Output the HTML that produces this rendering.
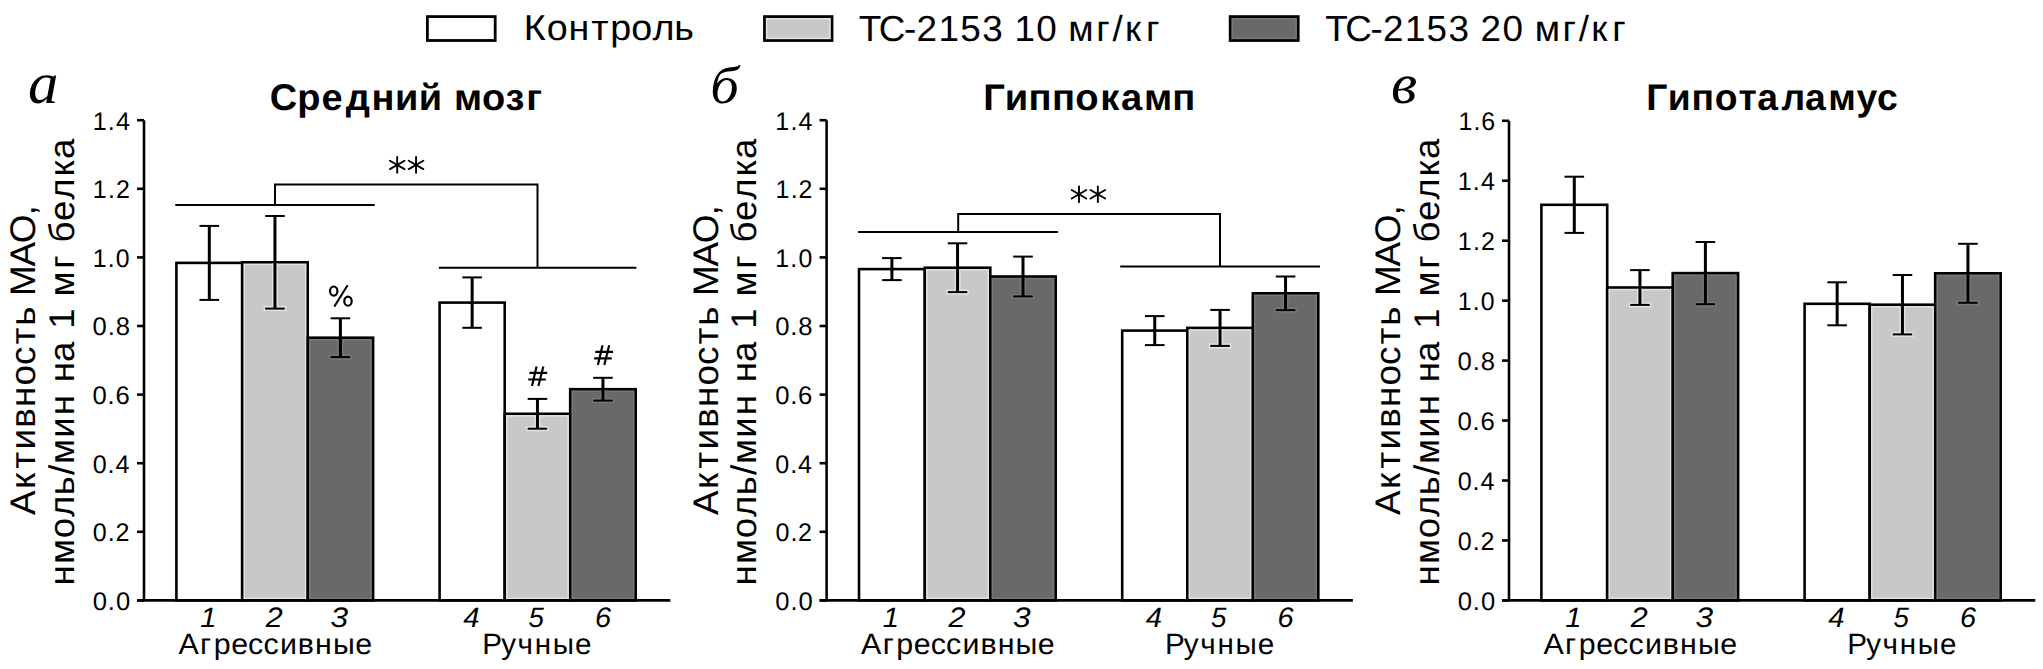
<!DOCTYPE html>
<html><head><meta charset="utf-8"><title>MAO activity</title>
<style>html,body{margin:0;padding:0;background:#fff;} svg{display:block;} text{fill:#000;text-rendering:geometricPrecision;}</style>
</head><body>
<svg width="2043" height="669" viewBox="0 0 2043 669">
<rect x="0" y="0" width="2043" height="669" fill="#fff"/>
<rect x="176.40" y="262.90" width="65.80" height="337.50" fill="#ffffff" stroke="#000" stroke-width="2.6"/>
<rect x="242.20" y="262.30" width="65.50" height="338.10" fill="#c8c8c8" stroke="#000" stroke-width="2.6"/>
<rect x="307.70" y="337.70" width="65.40" height="262.70" fill="#696969" stroke="#000" stroke-width="2.6"/>
<rect x="439.60" y="302.60" width="65.10" height="297.80" fill="#ffffff" stroke="#000" stroke-width="2.6"/>
<rect x="504.70" y="413.80" width="65.50" height="186.60" fill="#c8c8c8" stroke="#000" stroke-width="2.6"/>
<rect x="570.20" y="389.20" width="65.50" height="211.20" fill="#696969" stroke="#000" stroke-width="2.6"/>
<clipPath id="c01"><rect x="243.50" y="263.60" width="62.90" height="335.50"/></clipPath>
<g clip-path="url(#c01)" stroke="#e2e2e2" fill="none"><rect x="244.25" y="264.35" width="61.40" height="334.00" stroke-width="1.5"/><line x1="274.95" y1="215.00" x2="274.95" y2="311.10" stroke-width="6.0"/><line x1="263.65" y1="308.60" x2="286.25" y2="308.60" stroke-width="5.0"/><line x1="263.65" y1="216.00" x2="286.25" y2="216.00" stroke-width="5.0"/></g>
<clipPath id="c02"><rect x="309.00" y="339.00" width="62.80" height="260.10"/></clipPath>
<g clip-path="url(#c02)" stroke="#787878" fill="none"><rect x="309.75" y="339.75" width="61.30" height="258.60" stroke-width="1.5"/><line x1="340.40" y1="317.30" x2="340.40" y2="359.60" stroke-width="6.0"/><line x1="329.10" y1="357.10" x2="351.70" y2="357.10" stroke-width="5.0"/><line x1="329.10" y1="318.30" x2="351.70" y2="318.30" stroke-width="5.0"/></g>
<clipPath id="c04"><rect x="506.00" y="415.10" width="62.90" height="184.00"/></clipPath>
<g clip-path="url(#c04)" stroke="#e2e2e2" fill="none"><rect x="506.75" y="415.85" width="61.40" height="182.50" stroke-width="1.5"/><line x1="537.45" y1="397.90" x2="537.45" y2="431.20" stroke-width="6.0"/><line x1="526.15" y1="428.70" x2="548.75" y2="428.70" stroke-width="5.0"/><line x1="526.15" y1="398.90" x2="548.75" y2="398.90" stroke-width="5.0"/></g>
<clipPath id="c05"><rect x="571.50" y="390.50" width="62.90" height="208.60"/></clipPath>
<g clip-path="url(#c05)" stroke="#787878" fill="none"><rect x="572.25" y="391.25" width="61.40" height="207.10" stroke-width="1.5"/><line x1="602.95" y1="376.80" x2="602.95" y2="403.10" stroke-width="6.0"/><line x1="591.65" y1="400.60" x2="614.25" y2="400.60" stroke-width="5.0"/><line x1="591.65" y1="377.80" x2="614.25" y2="377.80" stroke-width="5.0"/></g>
<line x1="209.30" y1="225.90" x2="209.30" y2="299.90" stroke="#000" stroke-width="3.0" stroke-linecap="butt"/>
<line x1="199.50" y1="225.90" x2="219.10" y2="225.90" stroke="#000" stroke-width="2.0" stroke-linecap="butt"/>
<line x1="199.50" y1="299.90" x2="219.10" y2="299.90" stroke="#000" stroke-width="2.0" stroke-linecap="butt"/>
<line x1="274.95" y1="216.00" x2="274.95" y2="308.60" stroke="#000" stroke-width="3.0" stroke-linecap="butt"/>
<line x1="265.15" y1="216.00" x2="284.75" y2="216.00" stroke="#000" stroke-width="2.0" stroke-linecap="butt"/>
<line x1="265.15" y1="308.60" x2="284.75" y2="308.60" stroke="#000" stroke-width="2.0" stroke-linecap="butt"/>
<line x1="340.40" y1="318.30" x2="340.40" y2="357.10" stroke="#000" stroke-width="3.0" stroke-linecap="butt"/>
<line x1="330.60" y1="318.30" x2="350.20" y2="318.30" stroke="#000" stroke-width="2.0" stroke-linecap="butt"/>
<line x1="330.60" y1="357.10" x2="350.20" y2="357.10" stroke="#000" stroke-width="2.0" stroke-linecap="butt"/>
<line x1="472.15" y1="277.40" x2="472.15" y2="327.80" stroke="#000" stroke-width="3.0" stroke-linecap="butt"/>
<line x1="462.35" y1="277.40" x2="481.95" y2="277.40" stroke="#000" stroke-width="2.0" stroke-linecap="butt"/>
<line x1="462.35" y1="327.80" x2="481.95" y2="327.80" stroke="#000" stroke-width="2.0" stroke-linecap="butt"/>
<line x1="537.45" y1="398.90" x2="537.45" y2="428.70" stroke="#000" stroke-width="3.0" stroke-linecap="butt"/>
<line x1="527.65" y1="398.90" x2="547.25" y2="398.90" stroke="#000" stroke-width="2.0" stroke-linecap="butt"/>
<line x1="527.65" y1="428.70" x2="547.25" y2="428.70" stroke="#000" stroke-width="2.0" stroke-linecap="butt"/>
<line x1="602.95" y1="377.80" x2="602.95" y2="400.60" stroke="#000" stroke-width="3.0" stroke-linecap="butt"/>
<line x1="593.15" y1="377.80" x2="612.75" y2="377.80" stroke="#000" stroke-width="2.0" stroke-linecap="butt"/>
<line x1="593.15" y1="400.60" x2="612.75" y2="400.60" stroke="#000" stroke-width="2.0" stroke-linecap="butt"/>
<line x1="144.00" y1="600.40" x2="144.00" y2="120.20" stroke="#000" stroke-width="2.6" stroke-linecap="butt"/>
<line x1="137.00" y1="600.40" x2="670.30" y2="600.40" stroke="#000" stroke-width="2.6" stroke-linecap="butt"/>
<line x1="137.00" y1="600.40" x2="144.00" y2="600.40" stroke="#000" stroke-width="2.6" stroke-linecap="butt"/>
<line x1="137.00" y1="531.80" x2="144.00" y2="531.80" stroke="#000" stroke-width="2.6" stroke-linecap="butt"/>
<line x1="137.00" y1="463.20" x2="144.00" y2="463.20" stroke="#000" stroke-width="2.6" stroke-linecap="butt"/>
<line x1="137.00" y1="394.60" x2="144.00" y2="394.60" stroke="#000" stroke-width="2.6" stroke-linecap="butt"/>
<line x1="137.00" y1="326.00" x2="144.00" y2="326.00" stroke="#000" stroke-width="2.6" stroke-linecap="butt"/>
<line x1="137.00" y1="257.40" x2="144.00" y2="257.40" stroke="#000" stroke-width="2.6" stroke-linecap="butt"/>
<line x1="137.00" y1="188.80" x2="144.00" y2="188.80" stroke="#000" stroke-width="2.6" stroke-linecap="butt"/>
<line x1="137.00" y1="120.20" x2="144.00" y2="120.20" stroke="#000" stroke-width="2.6" stroke-linecap="butt"/>
<rect x="859.00" y="269.10" width="65.80" height="331.30" fill="#ffffff" stroke="#000" stroke-width="2.6"/>
<rect x="924.80" y="267.70" width="65.50" height="332.70" fill="#c8c8c8" stroke="#000" stroke-width="2.6"/>
<rect x="990.30" y="276.50" width="65.40" height="323.90" fill="#696969" stroke="#000" stroke-width="2.6"/>
<rect x="1122.20" y="330.60" width="65.10" height="269.80" fill="#ffffff" stroke="#000" stroke-width="2.6"/>
<rect x="1187.30" y="327.90" width="65.50" height="272.50" fill="#c8c8c8" stroke="#000" stroke-width="2.6"/>
<rect x="1252.80" y="293.30" width="65.50" height="307.10" fill="#696969" stroke="#000" stroke-width="2.6"/>
<clipPath id="c11"><rect x="926.10" y="269.00" width="62.90" height="330.10"/></clipPath>
<g clip-path="url(#c11)" stroke="#e2e2e2" fill="none"><rect x="926.85" y="269.75" width="61.40" height="328.60" stroke-width="1.5"/><line x1="957.55" y1="242.30" x2="957.55" y2="294.60" stroke-width="6.0"/><line x1="946.25" y1="292.10" x2="968.85" y2="292.10" stroke-width="5.0"/><line x1="946.25" y1="243.30" x2="968.85" y2="243.30" stroke-width="5.0"/></g>
<clipPath id="c12"><rect x="991.60" y="277.80" width="62.80" height="321.30"/></clipPath>
<g clip-path="url(#c12)" stroke="#787878" fill="none"><rect x="992.35" y="278.55" width="61.30" height="319.80" stroke-width="1.5"/><line x1="1023.00" y1="255.60" x2="1023.00" y2="298.90" stroke-width="6.0"/><line x1="1011.70" y1="296.40" x2="1034.30" y2="296.40" stroke-width="5.0"/><line x1="1011.70" y1="256.60" x2="1034.30" y2="256.60" stroke-width="5.0"/></g>
<clipPath id="c14"><rect x="1188.60" y="329.20" width="62.90" height="269.90"/></clipPath>
<g clip-path="url(#c14)" stroke="#e2e2e2" fill="none"><rect x="1189.35" y="329.95" width="61.40" height="268.40" stroke-width="1.5"/><line x1="1220.05" y1="308.90" x2="1220.05" y2="348.40" stroke-width="6.0"/><line x1="1208.75" y1="345.90" x2="1231.35" y2="345.90" stroke-width="5.0"/><line x1="1208.75" y1="309.90" x2="1231.35" y2="309.90" stroke-width="5.0"/></g>
<clipPath id="c15"><rect x="1254.10" y="294.60" width="62.90" height="304.50"/></clipPath>
<g clip-path="url(#c15)" stroke="#787878" fill="none"><rect x="1254.85" y="295.35" width="61.40" height="303.00" stroke-width="1.5"/><line x1="1285.55" y1="275.50" x2="1285.55" y2="312.60" stroke-width="6.0"/><line x1="1274.25" y1="310.10" x2="1296.85" y2="310.10" stroke-width="5.0"/><line x1="1274.25" y1="276.50" x2="1296.85" y2="276.50" stroke-width="5.0"/></g>
<line x1="891.90" y1="258.10" x2="891.90" y2="280.10" stroke="#000" stroke-width="3.0" stroke-linecap="butt"/>
<line x1="882.10" y1="258.10" x2="901.70" y2="258.10" stroke="#000" stroke-width="2.0" stroke-linecap="butt"/>
<line x1="882.10" y1="280.10" x2="901.70" y2="280.10" stroke="#000" stroke-width="2.0" stroke-linecap="butt"/>
<line x1="957.55" y1="243.30" x2="957.55" y2="292.10" stroke="#000" stroke-width="3.0" stroke-linecap="butt"/>
<line x1="947.75" y1="243.30" x2="967.35" y2="243.30" stroke="#000" stroke-width="2.0" stroke-linecap="butt"/>
<line x1="947.75" y1="292.10" x2="967.35" y2="292.10" stroke="#000" stroke-width="2.0" stroke-linecap="butt"/>
<line x1="1023.00" y1="256.60" x2="1023.00" y2="296.40" stroke="#000" stroke-width="3.0" stroke-linecap="butt"/>
<line x1="1013.20" y1="256.60" x2="1032.80" y2="256.60" stroke="#000" stroke-width="2.0" stroke-linecap="butt"/>
<line x1="1013.20" y1="296.40" x2="1032.80" y2="296.40" stroke="#000" stroke-width="2.0" stroke-linecap="butt"/>
<line x1="1154.75" y1="316.10" x2="1154.75" y2="345.10" stroke="#000" stroke-width="3.0" stroke-linecap="butt"/>
<line x1="1144.95" y1="316.10" x2="1164.55" y2="316.10" stroke="#000" stroke-width="2.0" stroke-linecap="butt"/>
<line x1="1144.95" y1="345.10" x2="1164.55" y2="345.10" stroke="#000" stroke-width="2.0" stroke-linecap="butt"/>
<line x1="1220.05" y1="309.90" x2="1220.05" y2="345.90" stroke="#000" stroke-width="3.0" stroke-linecap="butt"/>
<line x1="1210.25" y1="309.90" x2="1229.85" y2="309.90" stroke="#000" stroke-width="2.0" stroke-linecap="butt"/>
<line x1="1210.25" y1="345.90" x2="1229.85" y2="345.90" stroke="#000" stroke-width="2.0" stroke-linecap="butt"/>
<line x1="1285.55" y1="276.50" x2="1285.55" y2="310.10" stroke="#000" stroke-width="3.0" stroke-linecap="butt"/>
<line x1="1275.75" y1="276.50" x2="1295.35" y2="276.50" stroke="#000" stroke-width="2.0" stroke-linecap="butt"/>
<line x1="1275.75" y1="310.10" x2="1295.35" y2="310.10" stroke="#000" stroke-width="2.0" stroke-linecap="butt"/>
<line x1="826.60" y1="600.40" x2="826.60" y2="120.20" stroke="#000" stroke-width="2.6" stroke-linecap="butt"/>
<line x1="819.60" y1="600.40" x2="1352.90" y2="600.40" stroke="#000" stroke-width="2.6" stroke-linecap="butt"/>
<line x1="819.60" y1="600.40" x2="826.60" y2="600.40" stroke="#000" stroke-width="2.6" stroke-linecap="butt"/>
<line x1="819.60" y1="531.80" x2="826.60" y2="531.80" stroke="#000" stroke-width="2.6" stroke-linecap="butt"/>
<line x1="819.60" y1="463.20" x2="826.60" y2="463.20" stroke="#000" stroke-width="2.6" stroke-linecap="butt"/>
<line x1="819.60" y1="394.60" x2="826.60" y2="394.60" stroke="#000" stroke-width="2.6" stroke-linecap="butt"/>
<line x1="819.60" y1="326.00" x2="826.60" y2="326.00" stroke="#000" stroke-width="2.6" stroke-linecap="butt"/>
<line x1="819.60" y1="257.40" x2="826.60" y2="257.40" stroke="#000" stroke-width="2.6" stroke-linecap="butt"/>
<line x1="819.60" y1="188.80" x2="826.60" y2="188.80" stroke="#000" stroke-width="2.6" stroke-linecap="butt"/>
<line x1="819.60" y1="120.20" x2="826.60" y2="120.20" stroke="#000" stroke-width="2.6" stroke-linecap="butt"/>
<rect x="1541.40" y="204.80" width="65.80" height="395.60" fill="#ffffff" stroke="#000" stroke-width="2.6"/>
<rect x="1607.20" y="287.50" width="65.50" height="312.90" fill="#c8c8c8" stroke="#000" stroke-width="2.6"/>
<rect x="1672.70" y="273.10" width="65.40" height="327.30" fill="#696969" stroke="#000" stroke-width="2.6"/>
<rect x="1804.60" y="303.80" width="65.10" height="296.60" fill="#ffffff" stroke="#000" stroke-width="2.6"/>
<rect x="1869.70" y="304.70" width="65.50" height="295.70" fill="#c8c8c8" stroke="#000" stroke-width="2.6"/>
<rect x="1935.20" y="273.30" width="65.50" height="327.10" fill="#696969" stroke="#000" stroke-width="2.6"/>
<clipPath id="c21"><rect x="1608.50" y="288.80" width="62.90" height="310.30"/></clipPath>
<g clip-path="url(#c21)" stroke="#e2e2e2" fill="none"><rect x="1609.25" y="289.55" width="61.40" height="308.80" stroke-width="1.5"/><line x1="1639.95" y1="269.10" x2="1639.95" y2="307.40" stroke-width="6.0"/><line x1="1628.65" y1="304.90" x2="1651.25" y2="304.90" stroke-width="5.0"/><line x1="1628.65" y1="270.10" x2="1651.25" y2="270.10" stroke-width="5.0"/></g>
<clipPath id="c22"><rect x="1674.00" y="274.40" width="62.80" height="324.70"/></clipPath>
<g clip-path="url(#c22)" stroke="#787878" fill="none"><rect x="1674.75" y="275.15" width="61.30" height="323.20" stroke-width="1.5"/><line x1="1705.40" y1="241.00" x2="1705.40" y2="306.70" stroke-width="6.0"/><line x1="1694.10" y1="304.20" x2="1716.70" y2="304.20" stroke-width="5.0"/><line x1="1694.10" y1="242.00" x2="1716.70" y2="242.00" stroke-width="5.0"/></g>
<clipPath id="c24"><rect x="1871.00" y="306.00" width="62.90" height="293.10"/></clipPath>
<g clip-path="url(#c24)" stroke="#e2e2e2" fill="none"><rect x="1871.75" y="306.75" width="61.40" height="291.60" stroke-width="1.5"/><line x1="1902.45" y1="274.00" x2="1902.45" y2="336.90" stroke-width="6.0"/><line x1="1891.15" y1="334.40" x2="1913.75" y2="334.40" stroke-width="5.0"/><line x1="1891.15" y1="275.00" x2="1913.75" y2="275.00" stroke-width="5.0"/></g>
<clipPath id="c25"><rect x="1936.50" y="274.60" width="62.90" height="324.50"/></clipPath>
<g clip-path="url(#c25)" stroke="#787878" fill="none"><rect x="1937.25" y="275.35" width="61.40" height="323.00" stroke-width="1.5"/><line x1="1967.95" y1="242.80" x2="1967.95" y2="305.30" stroke-width="6.0"/><line x1="1956.65" y1="302.80" x2="1979.25" y2="302.80" stroke-width="5.0"/><line x1="1956.65" y1="243.80" x2="1979.25" y2="243.80" stroke-width="5.0"/></g>
<line x1="1574.30" y1="176.70" x2="1574.30" y2="232.90" stroke="#000" stroke-width="3.0" stroke-linecap="butt"/>
<line x1="1564.50" y1="176.70" x2="1584.10" y2="176.70" stroke="#000" stroke-width="2.0" stroke-linecap="butt"/>
<line x1="1564.50" y1="232.90" x2="1584.10" y2="232.90" stroke="#000" stroke-width="2.0" stroke-linecap="butt"/>
<line x1="1639.95" y1="270.10" x2="1639.95" y2="304.90" stroke="#000" stroke-width="3.0" stroke-linecap="butt"/>
<line x1="1630.15" y1="270.10" x2="1649.75" y2="270.10" stroke="#000" stroke-width="2.0" stroke-linecap="butt"/>
<line x1="1630.15" y1="304.90" x2="1649.75" y2="304.90" stroke="#000" stroke-width="2.0" stroke-linecap="butt"/>
<line x1="1705.40" y1="242.00" x2="1705.40" y2="304.20" stroke="#000" stroke-width="3.0" stroke-linecap="butt"/>
<line x1="1695.60" y1="242.00" x2="1715.20" y2="242.00" stroke="#000" stroke-width="2.0" stroke-linecap="butt"/>
<line x1="1695.60" y1="304.20" x2="1715.20" y2="304.20" stroke="#000" stroke-width="2.0" stroke-linecap="butt"/>
<line x1="1837.15" y1="282.30" x2="1837.15" y2="325.30" stroke="#000" stroke-width="3.0" stroke-linecap="butt"/>
<line x1="1827.35" y1="282.30" x2="1846.95" y2="282.30" stroke="#000" stroke-width="2.0" stroke-linecap="butt"/>
<line x1="1827.35" y1="325.30" x2="1846.95" y2="325.30" stroke="#000" stroke-width="2.0" stroke-linecap="butt"/>
<line x1="1902.45" y1="275.00" x2="1902.45" y2="334.40" stroke="#000" stroke-width="3.0" stroke-linecap="butt"/>
<line x1="1892.65" y1="275.00" x2="1912.25" y2="275.00" stroke="#000" stroke-width="2.0" stroke-linecap="butt"/>
<line x1="1892.65" y1="334.40" x2="1912.25" y2="334.40" stroke="#000" stroke-width="2.0" stroke-linecap="butt"/>
<line x1="1967.95" y1="243.80" x2="1967.95" y2="302.80" stroke="#000" stroke-width="3.0" stroke-linecap="butt"/>
<line x1="1958.15" y1="243.80" x2="1977.75" y2="243.80" stroke="#000" stroke-width="2.0" stroke-linecap="butt"/>
<line x1="1958.15" y1="302.80" x2="1977.75" y2="302.80" stroke="#000" stroke-width="2.0" stroke-linecap="butt"/>
<line x1="1509.00" y1="600.40" x2="1509.00" y2="120.80" stroke="#000" stroke-width="2.6" stroke-linecap="butt"/>
<line x1="1502.00" y1="600.40" x2="2035.30" y2="600.40" stroke="#000" stroke-width="2.6" stroke-linecap="butt"/>
<line x1="1502.00" y1="600.40" x2="1509.00" y2="600.40" stroke="#000" stroke-width="2.6" stroke-linecap="butt"/>
<line x1="1502.00" y1="540.45" x2="1509.00" y2="540.45" stroke="#000" stroke-width="2.6" stroke-linecap="butt"/>
<line x1="1502.00" y1="480.50" x2="1509.00" y2="480.50" stroke="#000" stroke-width="2.6" stroke-linecap="butt"/>
<line x1="1502.00" y1="420.55" x2="1509.00" y2="420.55" stroke="#000" stroke-width="2.6" stroke-linecap="butt"/>
<line x1="1502.00" y1="360.60" x2="1509.00" y2="360.60" stroke="#000" stroke-width="2.6" stroke-linecap="butt"/>
<line x1="1502.00" y1="300.65" x2="1509.00" y2="300.65" stroke="#000" stroke-width="2.6" stroke-linecap="butt"/>
<line x1="1502.00" y1="240.70" x2="1509.00" y2="240.70" stroke="#000" stroke-width="2.6" stroke-linecap="butt"/>
<line x1="1502.00" y1="180.75" x2="1509.00" y2="180.75" stroke="#000" stroke-width="2.6" stroke-linecap="butt"/>
<line x1="1502.00" y1="120.80" x2="1509.00" y2="120.80" stroke="#000" stroke-width="2.6" stroke-linecap="butt"/>
<line x1="175.30" y1="204.90" x2="374.80" y2="204.90" stroke="#000" stroke-width="2.0" stroke-linecap="butt"/>
<line x1="438.90" y1="267.70" x2="636.40" y2="267.70" stroke="#000" stroke-width="2.0" stroke-linecap="butt"/>
<polyline points="275.00,204.90 275.00,184.50 537.50,184.50 537.50,267.70" fill="none" stroke="#000" stroke-width="2.0"/>
<line x1="858.10" y1="232.00" x2="1058.10" y2="232.00" stroke="#000" stroke-width="2.0" stroke-linecap="butt"/>
<line x1="1120.20" y1="266.60" x2="1320.00" y2="266.60" stroke="#000" stroke-width="2.0" stroke-linecap="butt"/>
<polyline points="958.20,232.00 958.20,213.90 1220.00,213.90 1220.00,266.60" fill="none" stroke="#000" stroke-width="2.0"/>
<path d="M397.20,157.00V172.80M389.90,160.70L404.50,169.10M389.90,169.10L404.50,160.70" stroke="#000" stroke-width="1.9" stroke-linecap="round" fill="none"/>
<path d="M416.05,157.00V172.80M408.75,160.70L423.35,169.10M408.75,169.10L423.35,160.70" stroke="#000" stroke-width="1.9" stroke-linecap="round" fill="none"/>
<path d="M529.40,372.90H547.20M528.20,379.50H545.80M536.60,366.40L532.00,386.10M543.30,366.40L538.40,386.10" stroke="#000" stroke-width="2.2" fill="none"/>
<path d="M595.30,351.80H613.10M594.10,358.40H611.70M602.50,345.30L597.90,365.00M609.20,345.30L604.30,365.00" stroke="#000" stroke-width="2.2" fill="none"/>
<g fill="none" stroke="#000" stroke-width="2.2"><ellipse cx="333.72" cy="291.1" rx="3.72" ry="4.62"/><ellipse cx="347.98" cy="301.15" rx="3.72" ry="4.62"/><line x1="347.6" y1="285.3" x2="334.3" y2="306.6" stroke-width="2.0"/></g>
<path d="M1079.00,186.35V202.15M1071.70,190.05L1086.30,198.45M1071.70,198.45L1086.30,190.05" stroke="#000" stroke-width="1.9" stroke-linecap="round" fill="none"/>
<path d="M1097.85,186.35V202.15M1090.55,190.05L1105.15,198.45M1090.55,198.45L1105.15,190.05" stroke="#000" stroke-width="1.9" stroke-linecap="round" fill="none"/>
<rect x="427.40" y="16.60" width="67.80" height="23.90" fill="#ffffff" stroke="#000" stroke-width="2.8"/>
<rect x="764.50" y="16.60" width="67.50" height="23.90" fill="#c8c8c8" stroke="#000" stroke-width="2.8"/>
<rect x="766.65" y="18.75" width="63.20" height="19.60" fill="none" stroke="#e2e2e2" stroke-width="1.5"/>
<rect x="1230.20" y="16.60" width="68.00" height="23.90" fill="#696969" stroke="#000" stroke-width="2.8"/>
<rect x="1232.35" y="18.75" width="63.70" height="19.60" fill="none" stroke="#787878" stroke-width="1.5"/>
<text x="-2.26 19.86 40.60 62.41 80.64 100.79 121.13 141.89" transform="matrix(1.0437 0.0000 0.0000 1.0000 526.1000 40.0000)" font-family="Liberation Sans, sans-serif" font-size="36.09">Контроль</text>
<text x="-0.73 18.86 43.74 55.92 77.53 98.88 120.37 141.07 152.08 173.55 194.31 205.09 232.35 248.32 260.78 281.41" transform="matrix(1.0180 0.0000 0.0000 1.0000 859.6000 40.9000)" font-family="Liberation Sans, sans-serif" font-size="36.23">ТС-2153 10 мг/кг</text>
<text x="-0.73 18.85 43.72 55.89 77.49 98.83 120.31 141.01 151.71 173.47 194.22 204.99 232.25 248.21 260.66 281.28" transform="matrix(1.0180 0.0000 0.0000 1.0000 1326.0000 40.8000)" font-family="Liberation Sans, sans-serif" font-size="36.23">ТС-2153 20 мг/кг</text>
<text x="-3.35 23.48 47.23 70.79 95.96 118.89 142.12 165.09 176.42 203.84 226.85 246.95" transform="matrix(1.0242 0.0000 0.0000 1.0000 273.2485 109.6000)" font-family="Liberation Sans, sans-serif" font-size="37.10" font-weight="bold">Средний мозг</text>
<text x="-2.84 18.20 41.24 63.96 86.56 110.94 131.11 153.45 180.82" transform="matrix(1.0292 0.0000 0.0000 1.0000 986.1292 109.5000)" font-family="Liberation Sans, sans-serif" font-size="37.10" font-weight="bold">Гиппокамп</text>
<text x="-2.64 18.90 42.47 65.59 89.14 107.90 132.03 155.35 178.27 206.40 226.95" transform="matrix(1.0060 0.0000 0.0000 1.0000 1648.8060 109.5000)" font-family="Liberation Sans, sans-serif" font-size="37.10" font-weight="bold">Гипоталамус</text>
<text transform="matrix(1.0154 0.0000 0.0000 0.9857 28.0692 103.4000)" font-family="Liberation Serif, serif" font-size="60.00" font-style="italic">а</text>
<text transform="matrix(1.0370 0.0000 0.0000 0.9625 710.1259 103.2000)" font-family="Liberation Serif, serif" font-size="55.00" font-style="italic">б</text>
<text transform="matrix(1.0364 0.0000 0.0000 0.9786 1391.0273 103.2000)" font-family="Liberation Serif, serif" font-size="58.00" font-style="italic">в</text>
<text transform="matrix(1.0000 0.0000 0.0000 0.9619 200.2000 626.9000)" font-family="Liberation Sans, sans-serif" font-size="29.28" font-style="italic">1</text>
<text transform="matrix(1.0437 0.0000 0.0000 0.9619 265.8000 626.9000)" font-family="Liberation Sans, sans-serif" font-size="29.28" font-style="italic">2</text>
<text transform="matrix(1.0800 0.0000 0.0000 0.9619 330.4200 626.9000)" font-family="Liberation Sans, sans-serif" font-size="29.28" font-style="italic">3</text>
<text transform="matrix(1.0000 0.0000 0.0000 0.9619 463.2000 626.9000)" font-family="Liberation Sans, sans-serif" font-size="29.28" font-style="italic">4</text>
<text transform="matrix(0.9438 0.0000 0.0000 0.9619 528.4562 626.9000)" font-family="Liberation Sans, sans-serif" font-size="29.28" font-style="italic">5</text>
<text transform="matrix(0.9867 0.0000 0.0000 0.9619 594.9133 626.9000)" font-family="Liberation Sans, sans-serif" font-size="29.28" font-style="italic">6</text>
<text x="-0.71 20.20 33.25 50.14 66.36 81.29 97.10 114.37 130.90 148.13 169.58" transform="matrix(1.0382 0.0000 0.0000 1.0000 179.1382 653.8000)" font-family="Liberation Sans, sans-serif" font-size="29.28">Агрессивные</text>
<text x="-3.61 15.07 31.17 48.23 66.04 88.05" transform="matrix(1.0115 0.0000 0.0000 1.0000 486.0115 653.8000)" font-family="Liberation Sans, sans-serif" font-size="29.28">Ручные</text>
<text x="-0.97 14.35 22.45" transform="matrix(0.9935 0.0000 0.0000 0.9889 93.6141 609.7000)" font-family="Liberation Sans, sans-serif" font-size="25.80">0.0</text>
<text x="-0.87 14.63 22.56" transform="matrix(0.9715 0.0000 0.0000 0.9889 93.6141 541.1000)" font-family="Liberation Sans, sans-serif" font-size="25.80">0.2</text>
<text x="-0.97 14.33 22.40" transform="matrix(0.9746 0.0000 0.0000 0.9889 93.6141 472.5000)" font-family="Liberation Sans, sans-serif" font-size="25.80">0.4</text>
<text x="-1.07 14.06 21.99" transform="matrix(0.9962 0.0000 0.0000 0.9889 93.6141 403.9000)" font-family="Liberation Sans, sans-serif" font-size="25.80">0.6</text>
<text x="-1.00 14.26 22.31" transform="matrix(0.9935 0.0000 0.0000 0.9889 93.6141 335.3000)" font-family="Liberation Sans, sans-serif" font-size="25.80">0.8</text>
<text x="-2.08 13.57 21.90" transform="matrix(0.9633 0.0000 0.0000 0.9889 94.7009 266.7000)" font-family="Liberation Sans, sans-serif" font-size="25.80">1.0</text>
<text x="-1.99 13.86 22.03" transform="matrix(0.9682 0.0000 0.0000 0.9889 94.7009 198.1000)" font-family="Liberation Sans, sans-serif" font-size="25.80">1.2</text>
<text x="-2.09 13.55 21.82" transform="matrix(0.9715 0.0000 0.0000 0.9889 94.7009 129.5000)" font-family="Liberation Sans, sans-serif" font-size="25.80">1.4</text>
<text x="-0.90 24.07 43.59 62.12 83.06 103.09 123.85 143.56 163.33 181.56 200.51 210.28 238.68 260.98 287.73" transform="matrix(0.0000 -1.0372 1.0000 0.0000 34.9000 513.9628)" font-family="Liberation Sans, sans-serif" font-size="35.60">Активность МАО,</text>
<text x="-1.95 19.06 44.07 64.79 85.97 105.67 116.51 142.15 163.91 184.61 196.20 215.90 237.24 248.29 268.95 279.79 306.82 322.00 332.29 353.41 374.08 396.59 413.79" transform="matrix(0.0000 -1.0260 1.0000 0.0000 73.5000 583.5000)" font-family="Liberation Sans, sans-serif" font-size="35.60">нмоль/мин на 1 мг белка</text>
<text transform="matrix(1.0000 0.0000 0.0000 0.9619 882.8000 626.9000)" font-family="Liberation Sans, sans-serif" font-size="29.28" font-style="italic">1</text>
<text transform="matrix(1.0437 0.0000 0.0000 0.9619 948.4000 626.9000)" font-family="Liberation Sans, sans-serif" font-size="29.28" font-style="italic">2</text>
<text transform="matrix(1.0800 0.0000 0.0000 0.9619 1013.0200 626.9000)" font-family="Liberation Sans, sans-serif" font-size="29.28" font-style="italic">3</text>
<text transform="matrix(1.0000 0.0000 0.0000 0.9619 1145.8000 626.9000)" font-family="Liberation Sans, sans-serif" font-size="29.28" font-style="italic">4</text>
<text transform="matrix(0.9437 0.0000 0.0000 0.9619 1211.0563 626.9000)" font-family="Liberation Sans, sans-serif" font-size="29.28" font-style="italic">5</text>
<text transform="matrix(0.9867 0.0000 0.0000 0.9619 1277.5133 626.9000)" font-family="Liberation Sans, sans-serif" font-size="29.28" font-style="italic">6</text>
<text x="-0.71 20.20 33.25 50.14 66.36 81.29 97.10 114.37 130.90 148.13 169.58" transform="matrix(1.0382 0.0000 0.0000 1.0000 861.7382 653.8000)" font-family="Liberation Sans, sans-serif" font-size="29.28">Агрессивные</text>
<text x="-3.61 15.07 31.17 48.23 66.04 88.05" transform="matrix(1.0115 0.0000 0.0000 1.0000 1168.6115 653.8000)" font-family="Liberation Sans, sans-serif" font-size="29.28">Ручные</text>
<text x="-0.97 14.35 22.45" transform="matrix(0.9935 0.0000 0.0000 0.9889 776.2141 609.7000)" font-family="Liberation Sans, sans-serif" font-size="25.80">0.0</text>
<text x="-0.87 14.63 22.56" transform="matrix(0.9715 0.0000 0.0000 0.9889 776.2141 541.1000)" font-family="Liberation Sans, sans-serif" font-size="25.80">0.2</text>
<text x="-0.97 14.33 22.40" transform="matrix(0.9746 0.0000 0.0000 0.9889 776.2141 472.5000)" font-family="Liberation Sans, sans-serif" font-size="25.80">0.4</text>
<text x="-1.07 14.06 21.99" transform="matrix(0.9962 0.0000 0.0000 0.9889 776.2141 403.9000)" font-family="Liberation Sans, sans-serif" font-size="25.80">0.6</text>
<text x="-1.00 14.26 22.31" transform="matrix(0.9935 0.0000 0.0000 0.9889 776.2141 335.3000)" font-family="Liberation Sans, sans-serif" font-size="25.80">0.8</text>
<text x="-2.08 13.57 21.90" transform="matrix(0.9633 0.0000 0.0000 0.9889 777.3009 266.7000)" font-family="Liberation Sans, sans-serif" font-size="25.80">1.0</text>
<text x="-1.99 13.86 22.03" transform="matrix(0.9682 0.0000 0.0000 0.9889 777.3009 198.1000)" font-family="Liberation Sans, sans-serif" font-size="25.80">1.2</text>
<text x="-2.09 13.55 21.82" transform="matrix(0.9715 0.0000 0.0000 0.9889 777.3009 129.5000)" font-family="Liberation Sans, sans-serif" font-size="25.80">1.4</text>
<text x="-0.90 24.07 43.59 62.12 83.06 103.09 123.85 143.56 163.33 181.56 200.51 210.28 238.68 260.98 287.73" transform="matrix(0.0000 -1.0372 1.0000 0.0000 717.5000 513.9628)" font-family="Liberation Sans, sans-serif" font-size="35.60">Активность МАО,</text>
<text x="-1.95 19.06 44.07 64.79 85.97 105.67 116.51 142.15 163.91 184.61 196.20 215.90 237.24 248.29 268.95 279.79 306.82 322.00 332.29 353.41 374.08 396.59 413.79" transform="matrix(0.0000 -1.0260 1.0000 0.0000 756.1000 583.5000)" font-family="Liberation Sans, sans-serif" font-size="35.60">нмоль/мин на 1 мг белка</text>
<text transform="matrix(1.0000 0.0000 0.0000 0.9619 1565.2000 626.9000)" font-family="Liberation Sans, sans-serif" font-size="29.28" font-style="italic">1</text>
<text transform="matrix(1.0438 0.0000 0.0000 0.9619 1630.8000 626.9000)" font-family="Liberation Sans, sans-serif" font-size="29.28" font-style="italic">2</text>
<text transform="matrix(1.0800 0.0000 0.0000 0.9619 1695.4200 626.9000)" font-family="Liberation Sans, sans-serif" font-size="29.28" font-style="italic">3</text>
<text transform="matrix(1.0000 0.0000 0.0000 0.9619 1828.2000 626.9000)" font-family="Liberation Sans, sans-serif" font-size="29.28" font-style="italic">4</text>
<text transform="matrix(0.9437 0.0000 0.0000 0.9619 1893.4563 626.9000)" font-family="Liberation Sans, sans-serif" font-size="29.28" font-style="italic">5</text>
<text transform="matrix(0.9867 0.0000 0.0000 0.9619 1959.9133 626.9000)" font-family="Liberation Sans, sans-serif" font-size="29.28" font-style="italic">6</text>
<text x="-0.71 20.20 33.25 50.14 66.36 81.29 97.10 114.37 130.90 148.13 169.58" transform="matrix(1.0382 0.0000 0.0000 1.0000 1544.1382 653.8000)" font-family="Liberation Sans, sans-serif" font-size="29.28">Агрессивные</text>
<text x="-3.61 15.07 31.17 48.23 66.04 88.05" transform="matrix(1.0115 0.0000 0.0000 1.0000 1851.0115 653.8000)" font-family="Liberation Sans, sans-serif" font-size="29.28">Ручные</text>
<text x="-0.97 14.35 22.45" transform="matrix(0.9935 0.0000 0.0000 0.9889 1458.6141 609.7000)" font-family="Liberation Sans, sans-serif" font-size="25.80">0.0</text>
<text x="-0.87 14.63 22.56" transform="matrix(0.9715 0.0000 0.0000 0.9889 1458.6141 549.7500)" font-family="Liberation Sans, sans-serif" font-size="25.80">0.2</text>
<text x="-0.97 14.33 22.40" transform="matrix(0.9746 0.0000 0.0000 0.9889 1458.6141 489.8000)" font-family="Liberation Sans, sans-serif" font-size="25.80">0.4</text>
<text x="-1.07 14.06 21.99" transform="matrix(0.9962 0.0000 0.0000 0.9889 1458.6141 429.8500)" font-family="Liberation Sans, sans-serif" font-size="25.80">0.6</text>
<text x="-1.00 14.26 22.31" transform="matrix(0.9935 0.0000 0.0000 0.9889 1458.6141 369.9000)" font-family="Liberation Sans, sans-serif" font-size="25.80">0.8</text>
<text x="-2.08 13.57 21.90" transform="matrix(0.9633 0.0000 0.0000 0.9889 1459.7009 309.9500)" font-family="Liberation Sans, sans-serif" font-size="25.80">1.0</text>
<text x="-1.99 13.86 22.03" transform="matrix(0.9682 0.0000 0.0000 0.9889 1459.7009 250.0000)" font-family="Liberation Sans, sans-serif" font-size="25.80">1.2</text>
<text x="-2.09 13.55 21.82" transform="matrix(0.9715 0.0000 0.0000 0.9889 1459.7009 190.0500)" font-family="Liberation Sans, sans-serif" font-size="25.80">1.4</text>
<text x="-2.17 13.28 21.42" transform="matrix(0.9660 0.0000 0.0000 0.9889 1460.6669 130.1000)" font-family="Liberation Sans, sans-serif" font-size="25.80">1.6</text>
<text x="-0.90 24.07 43.59 62.12 83.06 103.09 123.85 143.56 163.33 181.56 200.51 210.28 238.68 260.98 287.73" transform="matrix(0.0000 -1.0372 1.0000 0.0000 1399.9000 513.9628)" font-family="Liberation Sans, sans-serif" font-size="35.60">Активность МАО,</text>
<text x="-1.95 19.06 44.07 64.79 85.97 105.67 116.51 142.15 163.91 184.61 196.20 215.90 237.24 248.29 268.95 279.79 306.82 322.00 332.29 353.41 374.08 396.59 413.79" transform="matrix(0.0000 -1.0260 1.0000 0.0000 1438.5000 583.5000)" font-family="Liberation Sans, sans-serif" font-size="35.60">нмоль/мин на 1 мг белка</text>
</svg>
</body></html>
